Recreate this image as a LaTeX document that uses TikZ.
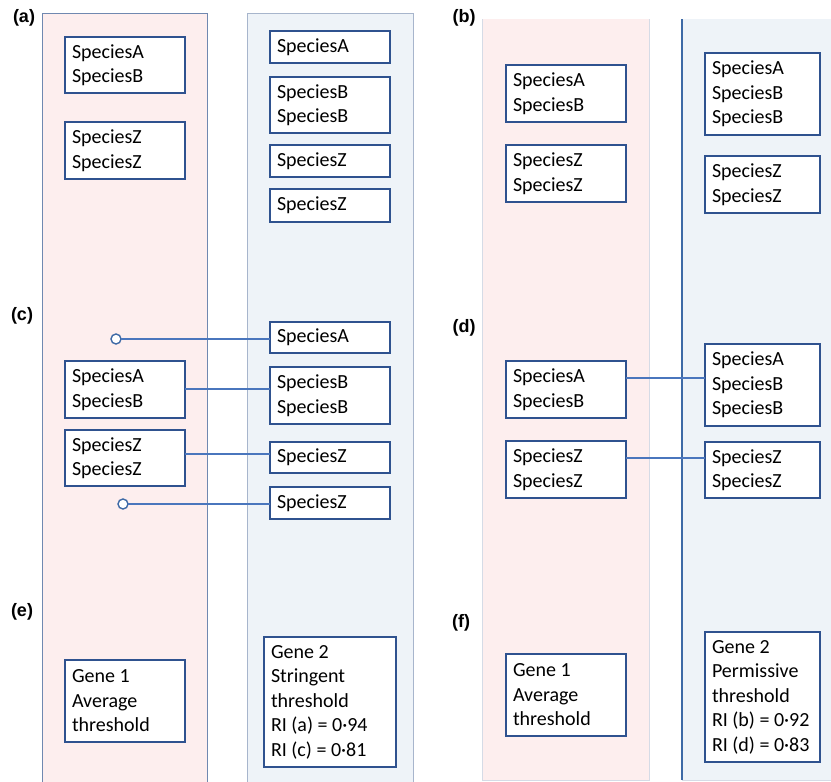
\documentclass[tikz,border=0pt]{standalone}
\usepackage{fontspec}
\setmainfont{Carlito}
\newfontfamily\labfont{Liberation Sans}
\definecolor{pinkfill}{HTML}{FDEEEE}
\definecolor{bluefill}{HTML}{EEF3F8}
\definecolor{boxc}{HTML}{2F528F}
\definecolor{linec}{HTML}{4A76BD}
\definecolor{colborder}{HTML}{7088B0}
\definecolor{colborderlight}{HTML}{A7B5CC}
\definecolor{paleborder}{HTML}{D5DBE6}
\definecolor{darkedge}{HTML}{3E6AA6}
\tikzset{
  sbox/.style={draw=boxc, line width=1.6pt, fill=white, align=flush left,
    inner xsep=7pt, inner ysep=0pt, outer sep=0pt,
    font=\fontsize{20}{24.5}\selectfont},
  circ/.style={circle, draw=darkedge, line width=1.4pt, fill=white,
    minimum size=10pt, inner sep=0pt, outer sep=0pt},
  conn/.style={draw=linec, line width=2pt},
  plabel/.style={font=\labfont\bfseries\fontsize{18}{20}\selectfont, inner sep=0pt}
}
\begin{document}
\begin{tikzpicture}[x=1pt,y=-1pt]
\useasboundingbox (0,0) rectangle (831,782);
% columns
\filldraw[fill=pinkfill, draw=colborder, line width=1pt] (42,13) rectangle (207,795);
\filldraw[fill=bluefill, draw=colborderlight, line width=1pt] (247,13) rectangle (413,795);
\fill[pinkfill] (482,19) rectangle (649,780);
\draw[paleborder, line width=1pt] (482,19) -- (482,780) -- (649,780) -- (649,19);
\fill[bluefill] (682,19) rectangle (840,780);
\draw[paleborder, line width=1pt] (682,780) -- (840,780);
\draw[darkedge, line width=1.3pt] (682,19) -- (682,780);
% labels
\node[plabel] (la) at (24,18) {(a)};
\node[plabel] (lb) at (464,18) {(b)};
\node[plabel] (lc) at (22,316) {(c)};
\node[plabel] (ld) at (464,328) {(d)};
\node[plabel] (le) at (22,612) {(e)};
\node[plabel] (lf) at (461,623) {(f)};
% (a)
\node[sbox, text width=106pt, minimum height=56pt] (aL1) at (125,65) {SpeciesA\\SpeciesB};
\node[sbox, text width=106pt, minimum height=57pt] (aL2) at (125,150.5) {SpeciesZ\\SpeciesZ};
\node[sbox, text width=106pt, minimum height=32pt] (aR1) at (330,47) {SpeciesA};
\node[sbox, text width=106pt, minimum height=56pt] (aR2) at (330,105) {SpeciesB\\SpeciesB};
\node[sbox, text width=106pt, minimum height=32pt] (aR3) at (330,161) {SpeciesZ};
\node[sbox, text width=106pt, minimum height=33pt] (aR4) at (330,205.5) {SpeciesZ};
% (b)
\node[sbox, text width=106pt, minimum height=57pt] (bL1) at (566,93.5) {SpeciesA\\SpeciesB};
\node[sbox, text width=106pt, minimum height=57pt] (bL2) at (566,173.5) {SpeciesZ\\SpeciesZ};
\node[sbox, text width=101pt, minimum height=82pt] (bR1) at (762.5,94) {SpeciesA\\SpeciesB\\SpeciesB};
\node[sbox, text width=101pt, minimum height=57pt] (bR2) at (762.5,184.5) {SpeciesZ\\SpeciesZ};
% (c)
\node[sbox, text width=106pt, minimum height=57pt] (cL1) at (125,389.5) {SpeciesA\\SpeciesB};
\node[sbox, text width=106pt, minimum height=56pt] (cL2) at (125,458) {SpeciesZ\\SpeciesZ};
\node[sbox, text width=106pt, minimum height=31pt] (cR1) at (330,337.5) {SpeciesA};
\node[sbox, text width=106pt, minimum height=57pt] (cR2) at (330,395.5) {SpeciesB\\SpeciesB};
\node[sbox, text width=106pt, minimum height=31pt] (cR3) at (330,457.5) {SpeciesZ};
\node[sbox, text width=106pt, minimum height=32pt] (cR4) at (330,503) {SpeciesZ};
\draw[conn] ([yshift=0.5pt]cL1.east) -- ([yshift=0.5pt]cL1.east -| cR2.west);
\draw[conn] ([yshift=4pt]cL2.east) -- ([yshift=4pt]cL2.east -| cR3.west);
\node[circ] (c1) at (116,339) {};
\node[circ] (c2) at (123,504) {};
\draw[conn] (c1.east) -- (c1.east -| cR1.west);
\draw[conn] (c2.east) -- (c2.east -| cR4.west);
% (d)
\node[sbox, text width=106pt, minimum height=57pt] (dL1) at (566,389.5) {SpeciesA\\SpeciesB};
\node[sbox, text width=106pt, minimum height=57pt] (dL2) at (566,469.5) {SpeciesZ\\SpeciesZ};
\node[sbox, text width=101pt, minimum height=82pt] (dR1) at (762.5,385) {SpeciesA\\SpeciesB\\SpeciesB};
\node[sbox, text width=101pt, minimum height=56pt] (dR2) at (762.5,470) {SpeciesZ\\SpeciesZ};
\draw[conn] ([yshift=11.5pt]dL1.east) -- ([yshift=11.5pt]dL1.east -| dR1.west);
\draw[conn] ([yshift=11.5pt]dL2.east) -- ([yshift=11.5pt]dL2.east -| dR2.west);
% (e)
\node[sbox, text width=106pt, minimum height=82pt] (eL) at (125,701) {Gene~1\\Average\\threshold};
\node[sbox, text width=118pt, minimum height=130pt] (eR) at (330,702) {Gene~2\\Stringent\\threshold\\RI~(a)~=~0·94\\RI~(c)~=~0·81};
% (f)
\node[sbox, text width=106pt, minimum height=82pt] (fL) at (566,695) {Gene~1\\Average\\threshold};
\node[sbox, text width=101pt, minimum height=130pt] (fR) at (762.5,697) {Gene~2\\Permissive\\threshold\\RI~(b)~=~0·92\\RI~(d)~=~0·83};
\end{tikzpicture}
\end{document}
